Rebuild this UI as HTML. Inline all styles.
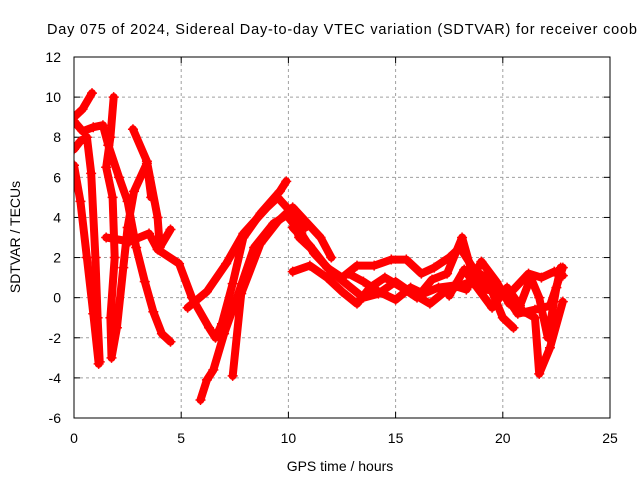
<!DOCTYPE html>
<html><head><meta charset="utf-8"><style>
body{margin:0;background:#fff;}
svg{display:block;font-family:"Liberation Sans",sans-serif;}
</style></head><body>
<svg id="chart" width="640" height="480">
<rect width="640" height="480" fill="#fff"/>
<text x="47" y="34" font-size="14.5" textLength="590" lengthAdjust="spacing">Day 075 of 2024, Sidereal Day-to-day VTEC variation (SDTVAR) for receiver coob</text>
<text x="340" y="471" font-size="14" text-anchor="middle">GPS time / hours</text>
<text transform="translate(20,237) rotate(-90)" font-size="14" text-anchor="middle">SDTVAR / TECUs</text>
<g id="grid"></g><g id="ticks"></g><g id="series" clip-path="url(#clip)"></g>
<clipPath id="clip"><rect x="74" y="57" width="536" height="361"/></clipPath>
<rect x="74" y="57" width="536" height="361" fill="none" stroke="#000" stroke-width="1"/>
</svg>
<script>
const xTicks=[0,5,10,15,20,25];
const yTicks=[-6,-4,-2,0,2,4,6,8,10,12];
const t1=[[0,6.6],[0.3,4.8],[0.6,2.0],[0.9,-0.8],[1.15,-3.3]];
const t2=[[0,9.0],[0.4,9.4],[0.84,10.2]];
const t3=[[0,7.4],[0.3,7.8],[0.6,8.0],[0.8,6.2],[1.0,2.0],[1.1,-1.0],[1.2,-3.2]];
const t4=[[0,8.8],[0.4,8.3],[0.9,8.5],[1.35,8.6],[1.6,7.6],[2.1,6.0],[2.5,4.8],[2.9,2.5],[3.3,0.8],[3.7,-0.7],[4.1,-1.8],[4.5,-2.2]];
const t5=[[1.85,10.0],[1.7,8.0],[1.5,6.5],[1.8,5.0],[1.9,2.0],[1.7,-1.0],[1.75,-3.0],[2.0,-1.5],[2.3,1.5],[2.5,3.5],[2.8,5.3],[3.4,6.7],[3.6,5.0]];
const t6=[[2.75,8.4],[3.4,6.8],[3.9,4.0],[4.0,2.5],[4.5,3.4]];
const t7=[[1.5,3.0],[2.6,2.8],[3.5,3.2],[3.9,2.4],[4.9,1.7],[5.5,0.0],[6.3,-1.5],[6.6,-2.0],[6.9,-1.3],[7.4,0.7],[7.9,3.0],[8.7,4.2],[9.6,5.3],[9.9,5.8]];
const t8=[[5.3,-0.5],[6.2,0.3],[7.1,1.7],[7.9,3.2],[9.0,4.5],[9.5,5.0],[10.1,4.3],[10.5,3.0],[11,2.5]];
const t9=[[5.9,-5.1],[6.2,-4.1],[6.5,-3.6],[7.0,-1.8],[7.6,0.0],[8.4,2.5],[9.3,3.7],[10.2,4.3],[10.8,3.5]];
const t10=[[7.4,-3.9],[7.8,0.2],[8.7,2.7],[9.5,3.8],[10.2,4.5],[11.5,3.0],[12,2.0]];
const r1=[[10.0,4.0],[10.6,3.2],[11.2,2.2],[12,1.3],[12.8,0.6],[13.5,0.0],[14.2,0.2],[15,0.8],[15.8,0.2],[16.6,-0.3],[17.3,0.3],[18,0.6],[18.8,0.9],[19.5,0.3],[20,-1.0],[20.5,-1.5]];
const r2=[[10.2,3.5],[11,2.6],[11.8,1.5],[12.5,1.0],[13.2,1.6],[14,1.6],[14.8,1.9],[15.5,1.9],[16.2,1.2],[16.8,1.5],[17.5,2.0],[18,2.5],[18.6,1.5],[19.2,0.4],[20,0.3],[20.7,-0.8],[21.5,-0.6],[22.2,-0.4],[22.8,1.5]];
const r3=[[10.2,1.3],[11,1.6],[11.8,1.0],[12.5,0.3],[13.2,-0.3],[13.8,0.5],[14.5,1.0],[15.3,0.5],[16,0.0],[16.7,0.9],[17.4,1.2],[18.1,3.0],[18.5,1.5],[19.2,1.0],[19.8,0.0],[20.5,0.4],[21.2,1.2],[21.8,1.0],[22.4,1.3],[22.8,1.1]];
const r4=[[12.8,1.2],[13.5,0.8],[14.2,0.3],[15,-0.1],[15.7,0.5],[16.3,0.2],[17,0.5],[17.7,0.6],[18.3,0.4],[19,1.8],[19.7,0.8],[20.3,-0.3],[21,-0.7],[21.5,-1.0],[21.7,-3.8],[22.2,-2.5],[22.8,-0.2]];
const r5=[[17.5,0.1],[18.2,1.4],[18.8,0.5],[19.5,-0.5],[20.2,0.5],[20.8,-0.4],[21.3,1.0],[21.7,0.0],[22.1,-2.0],[22.5,0.5],[22.7,1.5]];
const allSeries=[t1,t2,t3,t4,t5,t6,t7,t8,t9,t10,r1,r2,r3,r4,r5];

const X0=74,X1=610,Y0=418,Y1=57;
function xs(h){return X0+(h-0)/(25-0)*(X1-X0);}
function ys(v){return Y0-(v+6)/(12+6)*(Y0-Y1);}
const NS="http://www.w3.org/2000/svg";
const grid=document.getElementById('grid'),ticks=document.getElementById('ticks'),ser=document.getElementById('series');
function mk(tag,attrs,parent){const e=document.createElementNS(NS,tag);for(const k in attrs)e.setAttribute(k,attrs[k]);parent.appendChild(e);return e;}
xTicks.forEach(t=>{
  const x=xs(t);
  if(t>0&&t<25){const g=mk('line',{x1:x,x2:x,y1:Y1,y2:Y0,stroke:'#a0a0a0','stroke-dasharray':'3,3'},grid);
  
  }
  mk('line',{x1:x,x2:x,y1:Y0,y2:Y0-6,stroke:'#000'},ticks);
  mk('line',{x1:x,x2:x,y1:Y1,y2:Y1+6,stroke:'#000'},ticks);
  const l=mk('text',{x:x,y:Y0+25,'font-size':14,'text-anchor':'middle'},ticks);l.textContent=t;
  
  
});
yTicks.forEach(t=>{
  const y=ys(t);
  if(t>-6&&t<12){const g=mk('line',{x1:X0,x2:X1,y1:y,y2:y,stroke:'#a0a0a0','stroke-dasharray':'3,3'},grid);
  
  }
  mk('line',{x1:X0,x2:X0+6,y1:y,y2:y,stroke:'#000'},ticks);
  mk('line',{x1:X1,x2:X1-6,y1:y,y2:y,stroke:'#000'},ticks);
  const l=mk('text',{x:61,y:y+5,'font-size':14,'text-anchor':'end'},ticks);l.textContent=t;
  
  
});
allSeries.forEach((s,i)=>{
  const pts=s.map(p=>xs(p[0]).toFixed(1)+','+ys(p[1]).toFixed(1)).join(' ');
  const pl=mk('polyline',{points:pts,fill:'none',stroke:'#ff0000','stroke-width':8,'stroke-linejoin':'round','stroke-linecap':'round'},ser);
  
  
  s.forEach(p=>{
    const x=xs(p[0]),y=ys(p[1]);
    const m=mk('path',{d:`M${x-5},${y}H${x+5}M${x},${y-5}V${y+5}`,stroke:'#ff0000','stroke-width':1.5},ser);
    
    
  });
});
</script>
</body></html>
